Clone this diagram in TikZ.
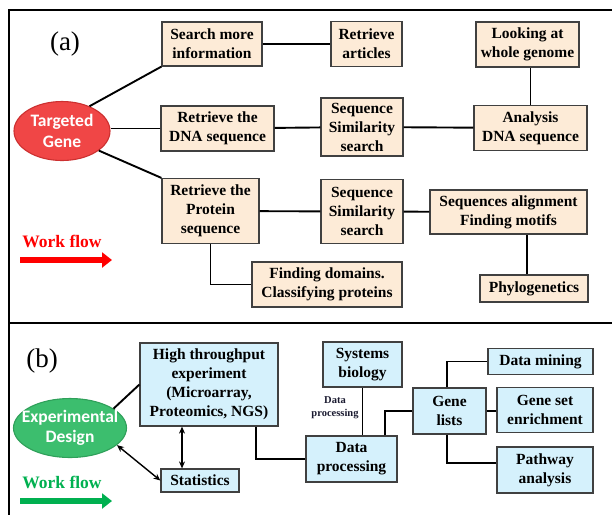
\documentclass[tikz,border=0pt]{standalone}
\usepackage{fontspec}
\setmainfont{LiberationSerif}[Extension=.ttf, UprightFont=*-Regular, BoldFont=*-Bold, ItalicFont=*-Italic, BoldItalicFont=*-BoldItalic]
\newfontfamily\tms{LiberationSerif}[Extension=.ttf, UprightFont=*-Regular, BoldFont=*-Bold]
\newfontfamily\carl{Carlito}
\usetikzlibrary{arrows.meta,shapes.geometric}
\definecolor{peach}{HTML}{FDEBD7}
\definecolor{lblue}{HTML}{D5F1FC}
\definecolor{boxline}{HTML}{404040}
\definecolor{redfill}{HTML}{F04646}
\definecolor{redline}{HTML}{CC3030}
\definecolor{greenfill}{HTML}{3CBE6E}
\definecolor{greenline}{HTML}{2FA05A}
\definecolor{wfgreen}{HTML}{00B050}
\definecolor{lblcol}{HTML}{1A1A30}
\begin{document}
\begin{tikzpicture}[x=1pt,y=-1pt,
  boxbase/.style={draw=boxline, line width=1.2pt, align=center, inner sep=0pt,
    font=\tms\bfseries\fontsize{15.5}{19}\selectfont},
  boxa/.style={boxbase, fill=peach},
  boxb/.style={boxbase, fill=lblue},
  oval/.style={ellipse, line width=1.1pt, inner xsep=-12pt, inner ysep=-3pt, align=center, text=white,
    font=\carl\bfseries\fontsize{17.5}{20.5}\selectfont},
  link/.style={draw=black, line width=1.9pt},
  dlink/.style={draw=black, line width=1.4pt, {Stealth[length=7pt,width=6pt]}-{Stealth[length=7pt,width=6pt]}},
  frame/.style={draw=black, line width=2.8pt},
  panel/.style={font=\tms\fontsize{27}{30}\selectfont},
  wftext/.style={font=\tms\bfseries\fontsize{17.5}{20}\selectfont},
  wfarrow/.style={line width=6pt, -{Triangle[length=10pt,width=15pt]}},
  smalllbl/.style={font=\tms\bfseries\fontsize{10.5}{13}\selectfont, align=center, text=lblcol}
]
\useasboundingbox (0,0) rectangle (612,515);
% frame
\coordinate (ftl) at (9,10);
\coordinate (ftr) at (612,10);
\coordinate (fbl) at (9,515);
\coordinate (fml) at (9,323);
\coordinate (fmr) at (612,323);
\draw[frame] (ftr) -- (ftl) -- (fbl);
\draw[frame] (fml) -- (fmr);

% ---------- panel (a)
\node[panel] (la) at (65,44) {(a)};
\node[oval, fill=redfill, draw=redline, minimum width=96pt, minimum height=59pt] (tg) at (62,131) {Targeted\\Gene};
\node[boxa, minimum width=100pt, minimum height=44pt] (s1) at (212,44) {Search more\\information};
\node[boxa, minimum width=71pt, minimum height=45pt] (s2) at (366.5,44) {Retrieve\\articles};
\node[boxa, minimum width=103pt, minimum height=45pt] (s3) at (527.5,44.5) {Looking at\\whole genome};
\node[boxa, minimum width=113pt, minimum height=45pt] (d1) at (217.5,128.5) {Retrieve the\\DNA sequence};
\node[boxa, minimum width=82pt, minimum height=58pt] (d2) at (362,127) {Sequence\\Similarity\\search};
\node[boxa, minimum width=113pt, minimum height=45pt] (d3) at (530.5,128) {Analysis\\DNA sequence};
\node[boxa, minimum width=97pt, minimum height=65pt] (p1) at (210.5,211) {Retrieve the\\Protein\\sequence};
\node[boxa, minimum width=82pt, minimum height=64pt] (p2) at (362,211.5) {Sequence\\Similarity\\search};
\node[boxa, minimum width=157pt, minimum height=44pt] (p3) at (508.5,212) {Sequences alignment\\Finding motifs};
\node[boxa, minimum width=150pt, minimum height=45pt] (p4) at (327,284.5) {Finding domains.\\Classifying proteins};
\node[boxa, minimum width=108pt, minimum height=27pt] (p5) at (534,288.5) {Phylogenetics};

\draw[link] (tg.42) -- (s1.south west);
\draw[link] (d1.west) -- (d1.west -| tg.east);
\draw[link] (tg.-28) -- (p1.north west);
\draw[link] (s1) -- (s2);
\draw[link] (d1) -- (d2);
\draw[link] (d2) -- (d3);
\draw[link] (d3.north) -- (d3.north |- s3.south);
\draw[link] (p1) -- (p2);
\draw[link] (p2) -- (p3);
\draw[link] ([xshift=-7pt]p5.north) -- ([xshift=-7pt]p5.north |- p3.south);
\draw[link] (p1.south) |- (p4.west);

\node[wftext, text=red] (wfa) at (62,241) {Work flow};
\coordinate (wfa1) at (20,260);
\coordinate (wfa2) at (112,260);
\draw[wfarrow, red] (wfa1) -- (wfa2);

% ---------- panel (b)
\node[panel] (lb) at (42,361) {(b)};
\node[oval, fill=greenfill, draw=greenline, minimum width=113pt, minimum height=59pt] (ed) at (70,428) {Experimental\\Design};
\node[boxb, minimum width=138pt, minimum height=83pt] (ht) at (209,384.5) {High throughput\\experiment\\(Microarray,\\Proteomics, NGS)};
\node[boxb, minimum width=78pt, minimum height=23pt] (st) at (200,480.5) {Statistics};
\node[boxb, minimum width=79pt, minimum height=45pt] (sb) at (362.5,364.5) {Systems\\biology};
\node[boxb, minimum width=91pt, minimum height=46pt] (dp) at (351.5,459) {Data\\processing};
\node[boxb, minimum width=73pt, minimum height=46pt] (gl) at (449.5,411) {Gene\\lists};
\node[boxb, minimum width=105pt, minimum height=26pt] (dm) at (540.5,361.5) {Data mining};
\node[boxb, minimum width=96pt, minimum height=45pt] (gs) at (545,410) {Gene set\\enrichment};
\node[boxb, minimum width=96pt, minimum height=46pt] (pa) at (545,470) {Pathway\\analysis};
\node[smalllbl] (dpl) at (335,408) {Data\\processing};

\draw[link] (ed.24) -- (ht.west);
\draw[dlink] (ed.-20) -- (st.west);
\draw[dlink] ([xshift=-18pt]st.north) -- ([xshift=-18pt]st.north |- ht.south);
\draw[link] ([xshift=47pt]ht.south) |- (dp.west);
\draw[link] (sb.south) -- (sb.south |- dp.north);
\draw[link] ([xshift=33.5pt]dp.north) |- (gl.west);
\draw[link] ([xshift=-2.5pt]gl.north) |- (dm.west);
\draw[link] (gl.east) -- (gl.east -| gs.west);
\draw[link] ([xshift=-2.5pt]gl.south) |- ([yshift=7pt]pa.west);

\node[wftext, text=wfgreen] (wfb) at (62,482) {Work flow};
\coordinate (wfb1) at (20,501);
\coordinate (wfb2) at (112,501);
\draw[wfarrow, wfgreen] (wfb1) -- (wfb2);
\end{tikzpicture}
\end{document}
